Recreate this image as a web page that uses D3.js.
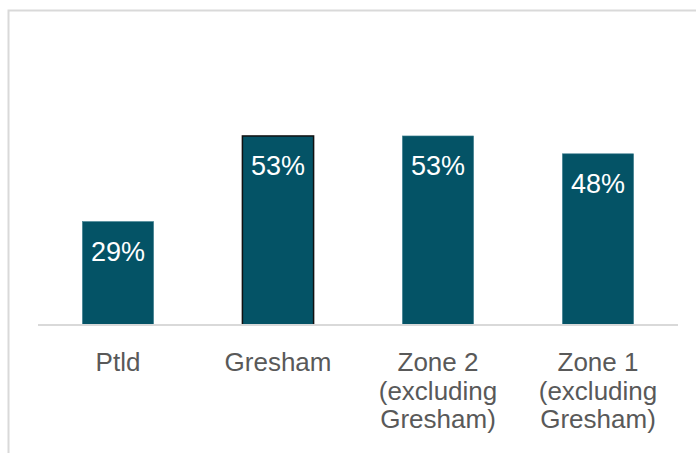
<!DOCTYPE html>
<html>
<head>
<meta charset="utf-8">
<script src="https://cdn.jsdelivr.net/npm/d3@7"></script>
<style>
  body { margin: 0; background: #fff; }
  svg { display: block; }
</style>
</head>
<body>
<script>
var w = 696,
    h = 453;

var categories = ["Ptld", "Gresham", "Zone 2 (excluding Gresham)", "Zone 1 (excluding Gresham)"];
var catLines = [["Ptld"], ["Gresham"], ["Zone 2", "(excluding", "Gresham)"], ["Zone 1", "(excluding", "Gresham)"]];
var values = [0.29, 0.53, 0.53, 0.48];
var highlighted = ["Gresham"];

var svg = d3.select("body").append("svg")
  .attr("width", w)
  .attr("height", h);

// chart frame (only top and left edges fall inside the picture)
svg.append("rect")
  .attr("x", 8.5).attr("y", 10.5)
  .attr("width", 720).attr("height", 480)
  .attr("fill", "#fff")
  .attr("stroke", "#d9d9d9")
  .attr("stroke-width", 2);

var x = d3.scaleBand()
  .domain(categories)
  .range([38, 678])
  .paddingInner(0.555)
  .paddingOuter(0.2775);

var y = d3.scaleLinear()
  .domain([0, 0.6])
  .range([325, 111]);

svg.selectAll("rect.bar").data(values)
  .enter().append("rect")
  .attr("class", "bar")
  .attr("x", function(d, i) { return x(categories[i]); })
  .attr("y", function(d) { return y(d); })
  .attr("width", x.bandwidth())
  .attr("height", function(d) { return y(0) - y(d); })
  .attr("fill", "#045366")
  .attr("stroke", function(d, i) { return highlighted.indexOf(categories[i]) >= 0 ? "#111" : "#3f7f8f"; })
  .attr("stroke-width", function(d, i) { return highlighted.indexOf(categories[i]) >= 0 ? 1.5 : 0.6; });

// baseline
svg.append("line")
  .attr("x1", 38).attr("x2", 678)
  .attr("y1", y(0)).attr("y2", y(0))
  .attr("stroke", "#d9d9d9")
  .attr("stroke-width", 2);

// value labels inside the bar ends
svg.selectAll("text.val").data(values)
  .enter().append("text")
  .attr("class", "val")
  .text(function(d) { return Math.round(d * 100) + "%"; })
  .attr("x", function(d, i) { return x(categories[i]) + x.bandwidth() / 2; })
  .attr("y", function(d) { return y(d) + 39.5; })
  .attr("text-anchor", "middle")
  .attr("font-family", "'Liberation Sans', Arial, sans-serif")
  .attr("font-size", "27px")
  .attr("fill", "#fff");

// category labels
var cat = svg.selectAll("text.cat").data(catLines)
  .enter().append("text")
  .attr("class", "cat")
  .attr("text-anchor", "middle")
  .attr("font-family", "'Liberation Sans', Arial, sans-serif")
  .attr("font-size", "26px")
  .attr("fill", "#595959")
  .attr("transform", function(d, i) {
    return "translate(" + (x(categories[i]) + x.bandwidth() / 2) + ",371)";
  });

cat.selectAll("tspan").data(function(d) { return d; })
  .enter().append("tspan")
  .attr("x", 0)
  .attr("y", function(d, j) { return j * 28.5; })
  .text(function(d) { return d; });
</script>
</body>
</html>
